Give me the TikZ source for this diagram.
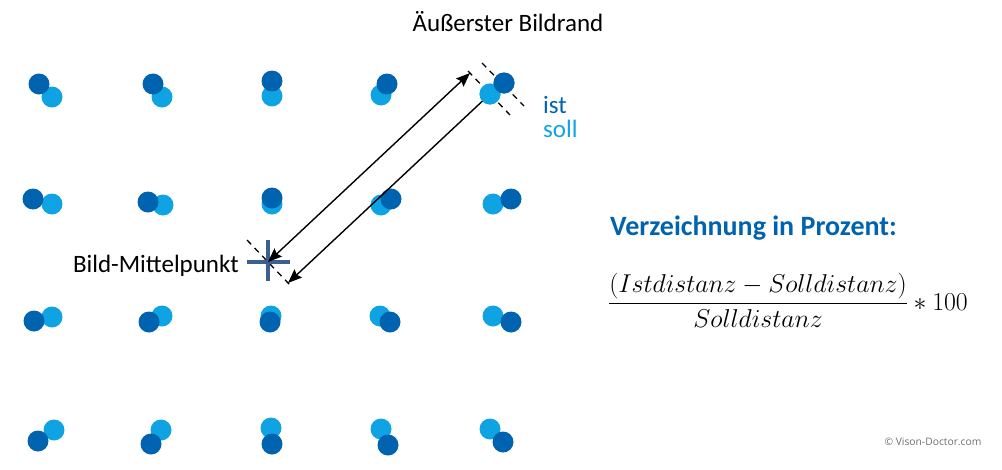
\RequirePackage{fix-cm}
\documentclass[tikz,border=0pt]{standalone}
\usepackage{fontspec}
\setmainfont{Carlito}
\newfontfamily\copyfont{Open Sans}
\usetikzlibrary{arrows.meta}

\definecolor{istblue}{RGB}{0,99,175}
\definecolor{sollblue}{RGB}{16,163,228}
\definecolor{crossblue}{RGB}{60,95,145}
\definecolor{copygray}{RGB}{110,110,110}

\begin{document}
\begin{tikzpicture}[
  x=1pt, y=-1pt,
  font=\fontsize{25}{30}\selectfont,
  >={Stealth[length=14pt, width=11pt, inset=2pt]},
  istdot/.style={circle, fill=istblue, minimum size=21pt, inner sep=0pt},
  solldot/.style={circle, fill=sollblue, minimum size=21pt, inner sep=0pt},
  rimline/.style={draw=black, line width=1.3pt, dash pattern=on 6pt off 5pt},
  meas/.style={draw=black, line width=1.4pt},
  crossbar/.style={draw=crossblue, line width=4pt},
  lbl/.style={inner sep=0pt},
]
\useasboundingbox (0,0) rectangle (1002,469);

% ================= COORDINATES (px) =================
\coordinate (mid)   at (268,262);
\coordinate (mid2)  at (288,283);
\coordinate (rim)   at (470,73);
\coordinate (dm1)   at (247,240);
\coordinate (dm2)   at (290,285);
\coordinate (dsa)   at (468,71);
\coordinate (dsb)   at (510,115);
\coordinate (dia)   at (482,63);
\coordinate (dib)   at (524,106);

% ================= DASHED MARKS =================
\draw[rimline] (dm1) -- (dm2);
\draw[rimline] (dsa) -- (dsb);
\draw[rimline] (dia) -- (dib);

% ================= CROSS =================
\draw[crossbar] ([xshift=-21pt]mid) -- ([xshift=22pt]mid);
\draw[crossbar] ([yshift=-19pt]mid) -- ([yshift=22pt]mid);

% ================= DOTS (soll first, ist on top) =================
% row 1
\node[solldot] (s11) at (52,97)  {}; \node[istdot] (i11) at (39,84)  {};
\node[solldot] (s12) at (162,97) {}; \node[istdot] (i12) at (153,84) {};
\node[solldot] (s13) at (272,96) {}; \node[istdot] (i13) at (272,81) {};
\node[solldot] (s14) at (381,95) {}; \node[istdot] (i14) at (387,84) {};
\node[solldot] (s15) at (490,94) {}; \node[istdot] (i15) at (504,83) {};
% row 2
\node[solldot] (s21) at (52,204)  {}; \node[istdot] (i21) at (33,199)  {};
\node[solldot] (s22) at (163,205) {}; \node[istdot] (i22) at (148,202) {};
\node[solldot] (s23) at (272,204) {}; \node[istdot] (i23) at (272,198) {};
\node[solldot] (s24) at (381,205) {}; \node[istdot] (i24) at (391,199) {};
\node[solldot] (s25) at (493,204) {}; \node[istdot] (i25) at (511,199) {};
% row 3
\node[solldot] (s31) at (52,317)  {}; \node[istdot] (i31) at (34,321)  {};
\node[solldot] (s32) at (162,316) {}; \node[istdot] (i32) at (149,322) {};
\node[solldot] (s33) at (271,316) {}; \node[istdot] (i33) at (270,322) {};
\node[solldot] (s34) at (380,316) {}; \node[istdot] (i34) at (390,322) {};
\node[solldot] (s35) at (493,316) {}; \node[istdot] (i35) at (511,322) {};
% row 4
\node[solldot] (s41) at (54,430)  {}; \node[istdot] (i41) at (38,441)  {};
\node[solldot] (s42) at (161,430) {}; \node[istdot] (i42) at (151,444) {};
\node[solldot] (s43) at (271,428) {}; \node[istdot] (i43) at (272,444) {};
\node[solldot] (s44) at (381,429) {}; \node[istdot] (i44) at (388,445) {};
\node[solldot] (s45) at (490,429) {}; \node[istdot] (i45) at (503,442) {};

% ================= ARROWS =================
\draw[meas, <->] (mid) -- (rim);
\draw[meas, ->] (s15.center) -- (mid2);
\node[solldot] at (s15) {}; \node[istdot] at (i15) {};

% ================= TEXTS =================
\node[lbl] (rimlbl) at (508,22) {Äußerster Bildrand};
\node[lbl, anchor=base east] (midlbl) at (239,272) {Bild-Mittelpunkt};
\node[lbl, anchor=base west, text=istblue] (istlbl) at (543,113) {ist};
\node[lbl, anchor=base west, text=sollblue] (solllbl) at (543,137) {soll};

\node[lbl, anchor=base west, text=istblue, font=\fontsize{28}{34}\selectfont\bfseries]
  (titel) at (610,235) {Verzeichnung in Prozent:};
\node[lbl, anchor=base west, font=\fontsize{25.8}{31}\selectfont]
  (formel) at (608,310) {$\displaystyle\frac{(Istdistanz - Solldistanz)}{Solldistanz} * 100$};

\node[lbl, text=copygray, font=\copyfont\fontsize{10.3}{12}\selectfont]
  (copy) at (933,442) {© Vison-Doctor.com};

\end{tikzpicture}
\end{document}
